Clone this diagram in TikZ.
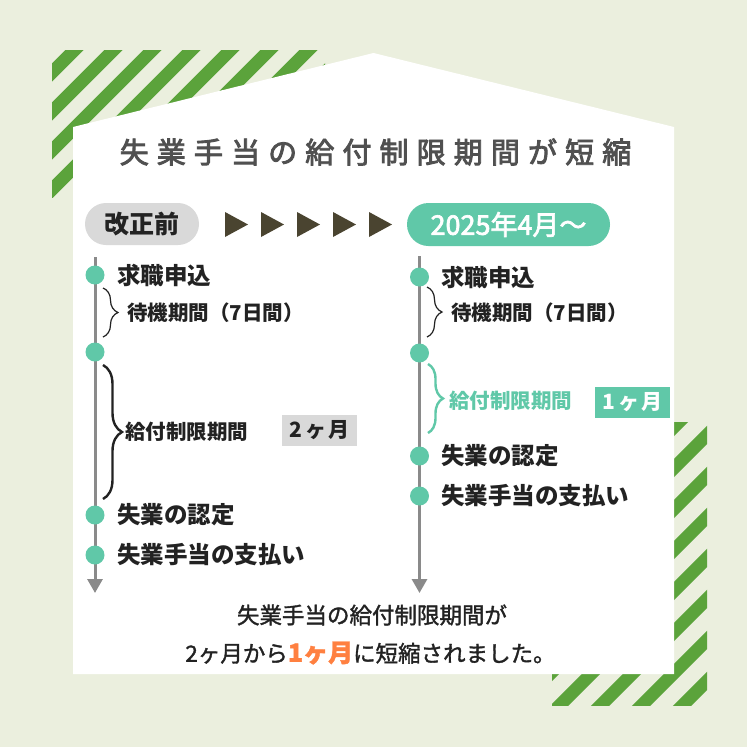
\documentclass[tikz,border=0pt]{standalone}
\usepackage{fontspec}
\setmainfont{Noto Sans CJK JP}
\newfontfamily\titlefont{Noto Sans CJK JP}[LetterSpace=28,FakeBold=3]
\newfontfamily\medfont{Noto Sans CJK JP}[FakeBold=2.5]
\newfontfamily\bodyfont{Noto Sans CJK JP}[FakeBold=1.5]
\usetikzlibrary{arrows.meta,decorations.pathreplacing}
\definecolor{bgc}{RGB}{235,239,222}
\definecolor{stripe}{RGB}{91,163,59}
\definecolor{mint}{RGB}{96,200,168}
\definecolor{pillgray}{RGB}{217,217,217}
\definecolor{lgray}{RGB}{138,138,138}
\definecolor{tri}{RGB}{74,68,48}
\definecolor{ttl}{RGB}{80,80,80}
\definecolor{txt}{RGB}{34,34,34}
\definecolor{orng}{RGB}{255,128,64}
\begin{document}
\begin{tikzpicture}[x=1pt,y=-1pt,
  lbl/.style={anchor=west,inner sep=0pt,text=txt,font=\bfseries\fontsize{23.5}{28}\selectfont},
  sublbl/.style={anchor=west,inner sep=0pt,text=txt,font=\bfseries\fontsize{20.5}{24}\selectfont},
  dot/.style={circle,fill=mint,minimum size=19pt,inner sep=0pt},
  tline/.style={draw=lgray,line width=3pt,-{Triangle[width=15pt,length=14pt]}},
  brcthin/.style={draw=txt,decorate,decoration={brace,amplitude=15pt},line width=1.2pt},
  brcthick/.style={draw=txt,decorate,decoration={brace,amplitude=19pt},line width=2.4pt},
  brcgreen/.style={draw=mint,decorate,decoration={brace,amplitude=15pt},line width=2.4pt},
  monthbox/.style={minimum width=75pt,minimum height=31pt,inner sep=0pt,font=\bfseries\fontsize{21}{24}\selectfont},
  stripeline/.style={draw=stripe,line width=13pt},
  btxt/.style={inner sep=0pt,text=txt,font=\bodyfont\fontsize{22.5}{26}\selectfont}
]
% background
\fill[bgc] (0,0) rectangle (747,747);
% stripes top-left
\begin{scope}
  \clip (52,50) rectangle (325,197);
  \foreach \k in {-1,...,11}{
    \pgfmathsetmacro{\c}{124.5+39*\k}
    \draw[stripeline] (\c,0) -- (\c-800,800);
  }
\end{scope}
% stripes bottom-right
\begin{scope}
  \clip (552,422) rectangle (707,705);
  \foreach \k in {-6,...,8}{
    \pgfmathsetmacro{\c}{1142+41*\k}
    \draw[stripeline] (\c,0) -- (\c-800,800);
  }
\end{scope}
% house
\fill[white] (73,127) -- (373.5,53) -- (674,127) -- (674,674) -- (73,674) -- cycle;
% title
\node[inner sep=0pt,text=ttl,font=\titlefont\fontsize{29}{34}\selectfont] (title) at (375.5,152) {失業手当の給付制限期間が短縮};
% header pills
\node[fill=pillgray,rounded corners=21pt,minimum width=114pt,minimum height=42pt,inner sep=0pt,text=txt,font=\bfseries\fontsize{25}{30}\selectfont] (before) at (142,224) {改正前};
\node[fill=mint,rounded corners=21.5pt,minimum width=203pt,minimum height=43pt,inner sep=0pt,text=white,font=\medfont\fontsize{27}{30}\selectfont] (after) at (508.5,224.5) {2025年4月～};
% arrows triangles
\foreach \i in {0,...,4}{
  \fill[tri] (225+36*\i,212) -- (248+36*\i,224.5) -- (225+36*\i,237) -- cycle;
}
% left timeline
\coordinate (Ltop) at (95,257);
\coordinate (Lend) at (95,593);
\draw[tline] (Ltop) -- (Lend);
\node[dot] (Ld1) at (95,275) {};
\node[dot] (Ld2) at (95,352) {};
\node[dot] (Ld3) at (95,515) {};
\node[dot] (Ld4) at (95,555) {};
\node[lbl] (Ll1) at (117,275) {求職申込};
\coordinate (Lb1a) at (103,288);
\coordinate (Lb1b) at (103,337);
\draw[brcthin] (Lb1a) -- (Lb1b);
\node[sublbl] (Ll2) at (127,313) {待機期間（7日間）};
\coordinate (Lb2a) at (103,365);
\coordinate (Lb2b) at (103,499);
\draw[brcthick] (Lb2a) -- (Lb2b);
\node[sublbl] (Ll3) at (125,432) {給付制限期間};
\node[monthbox,fill=pillgray,text=txt] (Lbox) at (319.5,430.5) {2\hspace{3pt}ヶ\hspace{2pt}月};
\node[lbl] (Ll4) at (117,515) {失業の認定};
\node[lbl] (Ll5) at (117,555) {失業手当の支払い};
% right timeline
\coordinate (Rtop) at (419.5,256);
\coordinate (Rend) at (419.5,593);
\draw[tline] (Rtop) -- (Rend);
\node[dot] (Rd1) at (419.5,277) {};
\node[dot] (Rd2) at (419.5,353) {};
\node[dot] (Rd3) at (419.5,456) {};
\node[dot] (Rd4) at (419.5,496) {};
\node[lbl] (Rl1) at (441,277) {求職申込};
\coordinate (Rb1a) at (427,287);
\coordinate (Rb1b) at (427,337);
\draw[brcthin] (Rb1a) -- (Rb1b);
\node[sublbl] (Rl2) at (451,313) {待機期間（7日間）};
\coordinate (Rb2a) at (428,364);
\coordinate (Rb2b) at (428,433);
\draw[brcgreen] (Rb2a) -- (Rb2b);
\node[sublbl,text=mint] (Rl3) at (449,401) {給付制限期間};
\node[monthbox,fill=mint,text=white] (Rbox) at (632.5,402.5) {1\hspace{3pt}ヶ\hspace{2pt}月};
\node[lbl] (Rl4) at (441,456) {失業の認定};
\node[lbl] (Rl5) at (441,496) {失業手当の支払い};
% bottom text
\node[btxt] (sum1) at (372,615) {失業手当の給付制限期間が};
\node[btxt] (sum2) at (370.5,653) {2ヶ月から\textcolor{orng}{\bfseries\fontsize{25}{28}\selectfont 1ヶ月}に短縮されました。};
\end{tikzpicture}
\end{document}
